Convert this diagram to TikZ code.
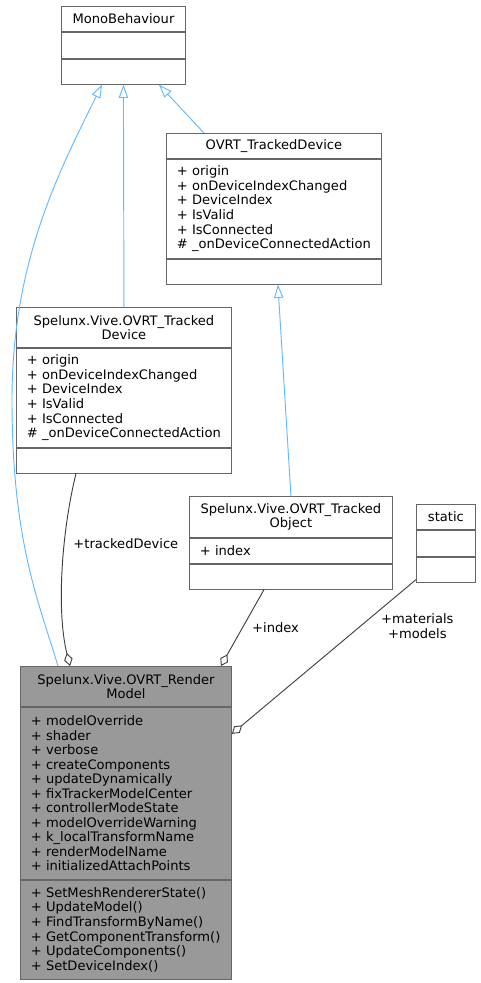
\documentclass[tikz,border=0pt]{standalone}
\usepackage{fontspec}
\setmainfont{DejaVu Sans}
\usetikzlibrary{arrows.meta}

\definecolor{boxgray}{HTML}{666666}
\definecolor{focusgray}{HTML}{999999}
\definecolor{inhblue}{HTML}{63B8FF}
\definecolor{agggray}{HTML}{404040}

\begin{document}
\begin{tikzpicture}[x=0.75pt, y=-0.75pt,
    every node/.style={font=\fontsize{9.8}{10.9}\selectfont},
    part/.style={draw=boxgray, line width=0.65pt, anchor=north west, inner sep=0pt},
    plain/.style={fill=white},
    focus/.style={fill=focusgray},
    member/.style={anchor=west, align=left, inner sep=0pt},
    title/.style={align=center, inner sep=0pt},
    inherit/.style={draw=inhblue, line width=0.7pt, -{Triangle[open, length=10pt, width=7pt]}},
    aggr/.style={draw=agggray, line width=0.7pt, -{Diamond[open, length=10pt, width=6.5pt]}},
    lbl/.style={inner sep=0pt, align=center}]
  \useasboundingbox (0,0) rectangle (480,983);

  % class boxes: id / x / y / width / title, attribute, operation heights / look
  \def \Classes {
    mb/61/6/124/25/26/25/plain,
    td/166/133/215/25/99/25/plain,
    std/16/307/215/40/99/25/plain,
    sto/189/496/203/41/25/25/plain,
    st/416/504/59/25/26/25/plain,
    rm/20/666/211/40/172/99/focus}

  \foreach \id / \x / \y / \w / \hname / \hattr / \hops / \look in \Classes {
    \node[part, \look, minimum width=\w*0.75pt, minimum height=\hname*0.75pt] (\id-t) at (\x, \y) {};
    \node[part, \look, minimum width=\w*0.75pt, minimum height=\hattr*0.75pt] (\id-a) at (\id-t.south west) {};
    \node[part, \look, minimum width=\w*0.75pt, minimum height=\hops*0.75pt] (\id-o) at (\id-a.south west) {};
  }

  % texts
  \node[title] (mb-name) at (mb-t) {MonoBehaviour};
  \node[title] (td-name) at (td-t) {OVRT\_TrackedDevice};
  \node[member] (td-attr) at ([xshift=8pt]td-a.west) {+ origin\\+ onDeviceIndexChanged\\+ DeviceIndex\\+ IsValid\\+ IsConnected\\\# \_onDeviceConnectedAction};
  \node[title] (std-name) at (std-t) {Spelunx.Vive.OVRT\_Tracked\\Device};
  \node[member] (std-attr) at ([xshift=8pt]std-a.west) {+ origin\\+ onDeviceIndexChanged\\+ DeviceIndex\\+ IsValid\\+ IsConnected\\\# \_onDeviceConnectedAction};
  \node[title] (sto-name) at (sto-t) {Spelunx.Vive.OVRT\_Tracked\\Object};
  \node[member] (sto-attr) at ([xshift=8pt]sto-a.west) {+ index};
  \node[title] (st-name) at (st-t) {static};
  \node[title] (rm-name) at (rm-t) {Spelunx.Vive.OVRT\_Render\\Model};
  \node[member] (rm-attr) at ([xshift=8pt]rm-a.west) {+ modelOverride\\+ shader\\+ verbose\\+ createComponents\\+ updateDynamically\\+ fixTrackerModelCenter\\+ controllerModeState\\+ modelOverrideWarning\\+ k\_localTransformName\\+ renderModelName\\+ initializedAttachPoints};
  \node[member] (rm-ops) at ([xshift=8pt]rm-o.west) {+ SetMeshRendererState()\\+ UpdateModel()\\+ FindTransformByName()\\+ GetComponentTransform()\\+ UpdateComponents()\\+ SetDeviceIndex()};

  % inheritance
  \draw[inherit] ([shift={(38,0)}]rm-t.north west) .. controls (38,600) and (12,540) .. (12,400)
    .. controls (12,260) and (60,170) .. ([shift={(41,0)}]mb-o.south west);
  \draw[inherit] (std-t.north) -- (mb-o.south);
  \draw[inherit] ([shift={(38,0)}]td-t.north west) -- ([shift={(-27,0)}]mb-o.south east);
  \draw[inherit] (sto-t.north) -- ([shift={(4,0)}]td-o.south);

  % aggregation
  \draw[aggr] ([shift={(60,0)}]std-o.south west) .. controls (62,530) and (56,610) .. ([shift={(50,0)}]rm-t.north west)
    node[lbl, pos=0.37, anchor=west, xshift=6.5pt] (lbl-dev) {+trackedDevice};
  \draw[aggr] ([shift={(75,0)}]sto-o.south west) -- ([shift={(-11,0)}]rm-t.north east)
    node[lbl, pos=0.5, anchor=west, xshift=7pt] (lbl-idx) {+index};
  \draw[aggr] ([shift={(0,-3)}]st-o.south west) -- ([shift={(0,27)}]rm-a.north east)
    node[lbl, pos=0.3, anchor=west, xshift=15pt] (lbl-mat) {+materials\\+models};
\end{tikzpicture}
\end{document}
